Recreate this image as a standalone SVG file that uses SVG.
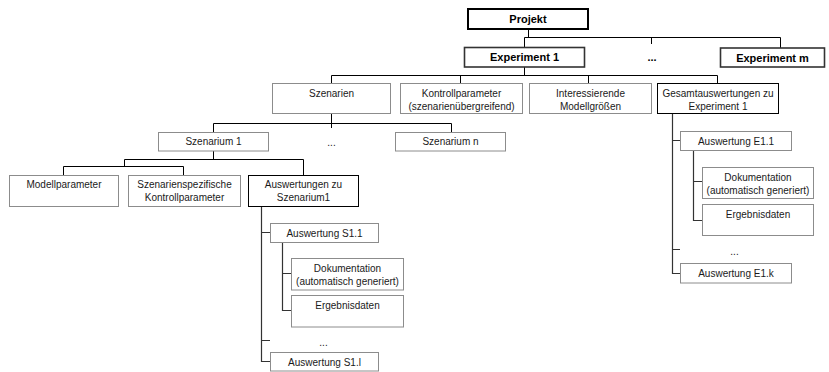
<svg xmlns="http://www.w3.org/2000/svg" width="829" height="372" viewBox="0 0 829 372">
<style>
text{font-family:"Liberation Sans",Arial,sans-serif;font-size:10px;fill:#1a1a1a;text-anchor:middle}
.b{font-weight:bold;font-size:11px;fill:#000}
.g{fill:#fff;stroke:#8c8c8c;stroke-width:1}
.k{fill:#fff;stroke:#000;stroke-width:1}
.t{fill:#fff;stroke:#000;stroke-width:2}
.m{fill:#fff;stroke:#333;stroke-width:1.6}
.c{fill:none;stroke:#000;stroke-width:1}
.d{fill:none;stroke:#333;stroke-width:1.2}
</style>
<rect width="829" height="372" fill="#fff"/>
<g id="connectors">
<path class="c" d="M528.5,29 V37.5 M524.5,37.5 H780.5 M524.5,37.5 V47 M651.5,37.5 V44 M780.5,37.5 V48"/>
<path class="c" d="M524.5,67 V75.5 M331.5,75.5 H717.5 M331.5,75.5 V83 M460.5,75.5 V83 M588.5,75.5 V83 M717.5,75.5 V83"/>
<path class="c" d="M331.5,114 V123.5 M213.5,123.5 H451.5 M213.5,123.5 V132 M331.5,123.5 V128 M451.5,123.5 V132"/>
<path class="c" d="M213.5,151 V159.5 M124.5,159.5 H303.5 M124.5,159.5 V166.5 M63.5,166.5 H183.5 M63.5,166.5 V175 M183.5,166.5 V175 M303.5,159.5 V175"/>
<path class="d" d="M261.5,207 V361.5 H270 M261.5,232.5 H270 M261.5,340.5 H270"/>
<path class="d" d="M282.5,243 V310.5 H291 M282.5,273.5 H291"/>
<path class="d" d="M672.5,114 V273.5 H680 M672.5,140.5 H680 M672.5,249.5 H680"/>
<path class="d" d="M693.5,151 V220.5 H702 M693.5,181.5 H702"/>
</g>
<g id="projekt"><rect class="t" x="468" y="9" width="120" height="20"/><text class="b" x="528" y="23">Projekt</text></g>
<g id="experiment1"><rect class="m" x="464.5" y="47.5" width="120" height="19.5"/><text class="b" x="524.5" y="61">Experiment 1</text></g>
<g id="dots-exp"><text class="b" x="652" y="61">...</text></g>
<g id="experimentm"><rect class="m" x="720.5" y="48" width="104" height="19"/><text class="b" x="772.5" y="61.5">Experiment m</text></g>
<g id="szenarien"><rect class="g" x="272.5" y="83.5" width="118" height="30"/><text x="331.5" y="97">Szenarien</text></g>
<g id="kontrollparameter"><rect class="g" x="400.5" y="83.5" width="122" height="30"/><text x="461.5" y="97">Kontrollparameter</text><text x="461.5" y="109.5">(szenarienübergreifend)</text></g>
<g id="interessierende"><rect class="g" x="529.5" y="83.5" width="122" height="30"/><text x="590.5" y="97">Interessierende</text><text x="590.5" y="109.5">Modellgrößen</text></g>
<g id="gesamt"><rect class="k" x="657.5" y="83.5" width="121" height="30"/><text x="718" y="97">Gesamtauswertungen zu</text><text x="718" y="109.5">Experiment 1</text></g>
<g id="szenarium1"><rect class="g" x="158.5" y="132.5" width="110" height="18.5"/><text x="213.5" y="145">Szenarium 1</text></g>
<g id="dots-szen"><text x="331.5" y="146">...</text></g>
<g id="szenariumn"><rect class="g" x="395.5" y="132.5" width="110" height="18.5"/><text x="450.5" y="145">Szenarium n</text></g>
<g id="modellparameter"><rect class="g" x="9.5" y="175.5" width="109" height="31"/><text x="64" y="188">Modellparameter</text></g>
<g id="szenarienspezifische"><rect class="g" x="128.5" y="175.5" width="112" height="31"/><text x="184.5" y="188">Szenarienspezifische</text><text x="184.5" y="200.5">Kontrollparameter</text></g>
<g id="auswertungen-s1"><rect class="k" x="248.5" y="175.5" width="110" height="31"/><text x="303.5" y="188">Auswertungen zu</text><text x="303.5" y="200.5">Szenarium1</text></g>
<g id="auswertung-s11"><rect class="g" x="270.5" y="223.5" width="108" height="19"/><text x="324.5" y="236.5">Auswertung S1.1</text></g>
<g id="doku-s"><rect class="g" x="291.5" y="258.5" width="112" height="31.5"/><text x="347.5" y="271.5">Dokumentation</text><text x="347.5" y="284.5">(automatisch generiert)</text></g>
<g id="ergebnis-s"><rect class="g" x="291.5" y="295.5" width="112" height="31.5"/><text x="347.5" y="308.5">Ergebnisdaten</text></g>
<g id="dots-s"><text x="323.5" y="346">...</text></g>
<g id="auswertung-s1l"><rect class="g" x="270.5" y="352.5" width="108" height="18.5"/><text x="324.5" y="365.5">Auswertung S1.l</text></g>
<g id="auswertung-e11"><rect class="g" x="680.5" y="131.5" width="111" height="19"/><text x="736" y="144.5">Auswertung E1.1</text></g>
<g id="doku-e"><rect class="g" x="702.5" y="167.5" width="111" height="31"/><text x="758" y="180.5">Dokumentation</text><text x="758" y="193.5">(automatisch generiert)</text></g>
<g id="ergebnis-e"><rect class="g" x="702.5" y="204.5" width="111" height="31"/><text x="758" y="217.5">Ergebnisdaten</text></g>
<g id="dots-e"><text x="734.5" y="255">...</text></g>
<g id="auswertung-e1k"><rect class="g" x="680.5" y="263.5" width="111" height="19.5"/><text x="736" y="276.5">Auswertung E1.k</text></g>
</svg>
